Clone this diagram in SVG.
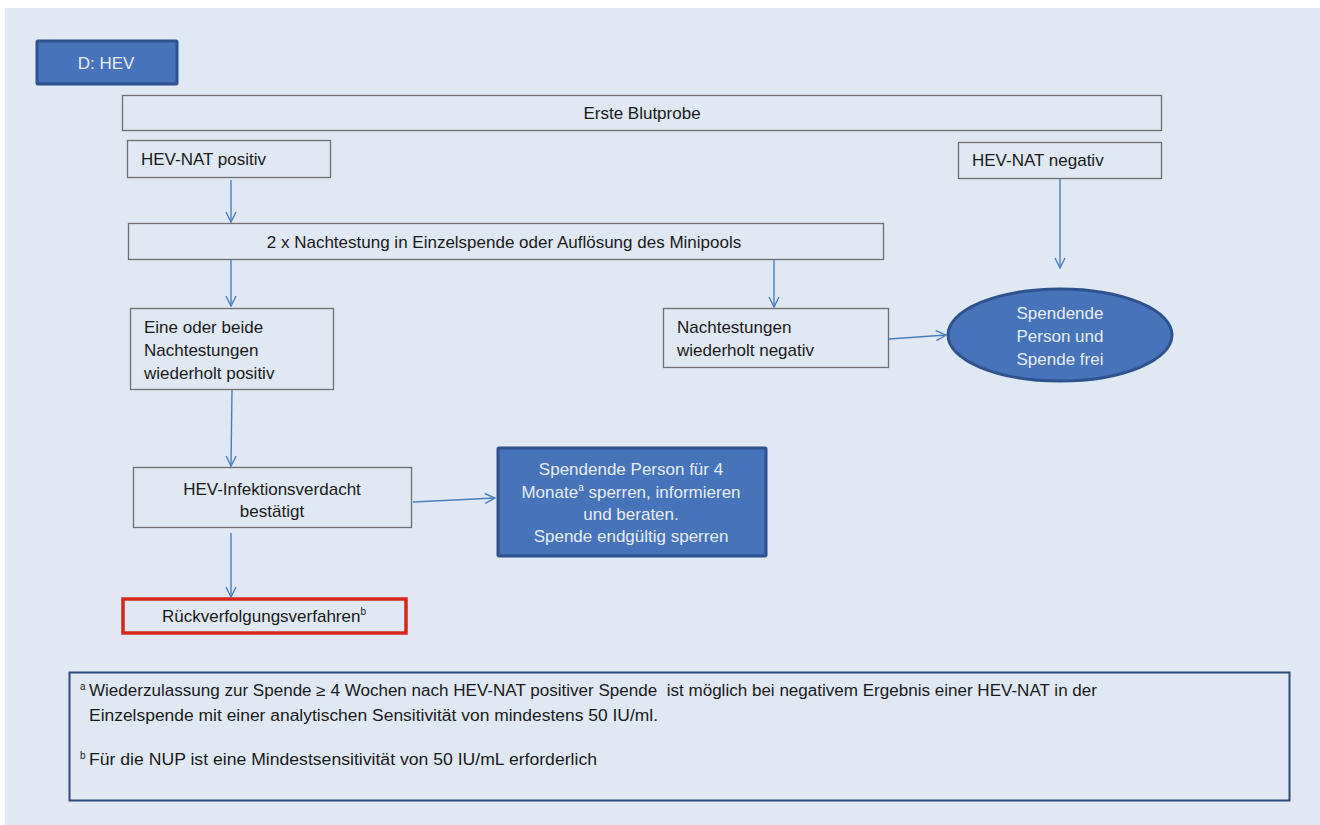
<svg xmlns="http://www.w3.org/2000/svg" width="1320" height="825" viewBox="0 0 1320 825">
  <defs>
    <marker id="arrow" viewBox="0 0 12 12" refX="11" refY="6" markerWidth="12" markerHeight="12" markerUnits="userSpaceOnUse" orient="auto">
      <path d="M1,1 L11,6 L1,11" fill="none" stroke="#4a7ebf" stroke-width="1.4"/>
    </marker>
  </defs>
  <style>
    text { font-family: "Liberation Sans", Arial, sans-serif; font-size: 17px; fill: #1a1a1a; }
    .box { fill: #dfe8f3; stroke: #6f6f6f; stroke-width: 1.3; }
    .blue { fill: #4673b9; stroke: #2f528f; stroke-width: 3; }
    .red { fill: #dfe8f3; stroke: #d9261c; stroke-width: 3.5; }
    .light { fill: #e6edf7; }
    .mid { text-anchor: middle; }
    .conn line { stroke: #4a7ebf; stroke-width: 1.4; marker-end: url(#arrow); }
    .note { font-size: 16px; white-space: pre; }
    .sup { font-size: 10px; }
  </style>

  <!-- page background -->
  <rect x="5" y="8" width="1315" height="817" fill="#dfe8f3"/>

  <g id="title">
    <rect class="blue" x="37" y="41" width="140" height="43" rx="1"/>
    <text class="mid light" x="106" y="69">D: HEV</text>
  </g>

  <g id="erste-blutprobe">
    <rect class="box" x="122.5" y="95.5" width="1039" height="35"/>
    <text class="mid" x="642" y="119">Erste Blutprobe</text>
  </g>

  <g id="nat-positiv">
    <rect class="box" x="127.5" y="140.5" width="203" height="37"/>
    <text x="141" y="165">HEV-NAT positiv</text>
  </g>

  <g id="nat-negativ">
    <rect class="box" x="958.5" y="142.5" width="203" height="36"/>
    <text x="972" y="166">HEV-NAT negativ</text>
  </g>

  <g id="nachtestung">
    <rect class="box" x="128.5" y="223.5" width="755" height="36"/>
    <text class="mid" x="504" y="248">2 x Nachtestung in Einzelspende oder Auflösung des Minipools</text>
  </g>

  <g id="wiederholt-positiv">
    <rect class="box" x="130.5" y="308.5" width="203" height="81"/>
    <text x="144" y="333">Eine oder beide</text>
    <text x="144" y="356">Nachtestungen</text>
    <text x="144" y="379">wiederholt positiv</text>
  </g>

  <g id="wiederholt-negativ">
    <rect class="box" x="663.5" y="308.5" width="225" height="59"/>
    <text x="677" y="333">Nachtestungen</text>
    <text x="677" y="356">wiederholt negativ</text>
  </g>

  <g id="spende-frei">
    <ellipse class="blue" cx="1060" cy="335" rx="112" ry="46"/>
    <text class="mid light" x="1060" y="319">Spendende</text>
    <text class="mid light" x="1060" y="342">Person und</text>
    <text class="mid light" x="1060" y="365">Spende frei</text>
  </g>

  <g id="infektionsverdacht">
    <rect class="box" x="133.5" y="467.5" width="278" height="60"/>
    <text class="mid" x="272" y="495">HEV-Infektionsverdacht</text>
    <text class="mid" x="272" y="517">bestätigt</text>
  </g>

  <g id="sperren">
    <rect class="blue" x="498" y="448" width="268" height="108" rx="1"/>
    <text class="mid light" x="631" y="475">Spendende Person für 4</text>
    <text class="mid light" x="631" y="498">Monate<tspan class="sup" dy="-7">a</tspan><tspan dy="7"> sperren, informieren</tspan></text>
    <text class="mid light" x="631" y="520">und beraten.</text>
    <text class="mid light" x="631" y="542">Spende endgültig sperren</text>
  </g>

  <g id="rueckverfolgung">
    <rect class="red" x="123" y="599" width="283" height="34"/>
    <text class="mid" x="264" y="622">Rückverfolgungsverfahren<tspan class="sup" dy="-7">b</tspan></text>
  </g>

  <g id="footnotes">
    <rect x="69.5" y="672.5" width="1220" height="128" fill="none" stroke="#2f4a7a" stroke-width="2"/>
    <text class="note sup" x="80" y="690">a</text>
    <text class="note" x="89" y="696" textLength="1008" lengthAdjust="spacingAndGlyphs">Wiederzulassung zur Spende ≥ 4 Wochen nach HEV-NAT positiver Spende  ist möglich bei negativem Ergebnis einer HEV-NAT in der</text>
    <text class="note" x="89" y="721" textLength="569" lengthAdjust="spacingAndGlyphs">Einzelspende mit einer analytischen Sensitivität von mindestens 50 IU/ml.</text>
    <text class="note sup" x="80" y="759">b</text>
    <text class="note" x="89" y="765" textLength="508" lengthAdjust="spacingAndGlyphs">Für die NUP ist eine Mindestsensitivität von 50 IU/mL erforderlich</text>
  </g>

  <g id="connectors" class="conn">
    <line x1="231" y1="180" x2="231" y2="222"/>
    <line x1="231" y1="260" x2="231" y2="306"/>
    <line x1="774" y1="260" x2="774" y2="307"/>
    <line x1="1060" y1="179" x2="1060" y2="268"/>
    <line x1="889" y1="339" x2="946" y2="335"/>
    <line x1="232" y1="390" x2="231" y2="466"/>
    <line x1="413" y1="502" x2="495" y2="498"/>
    <line x1="231" y1="533" x2="231" y2="597"/>
  </g>
</svg>
